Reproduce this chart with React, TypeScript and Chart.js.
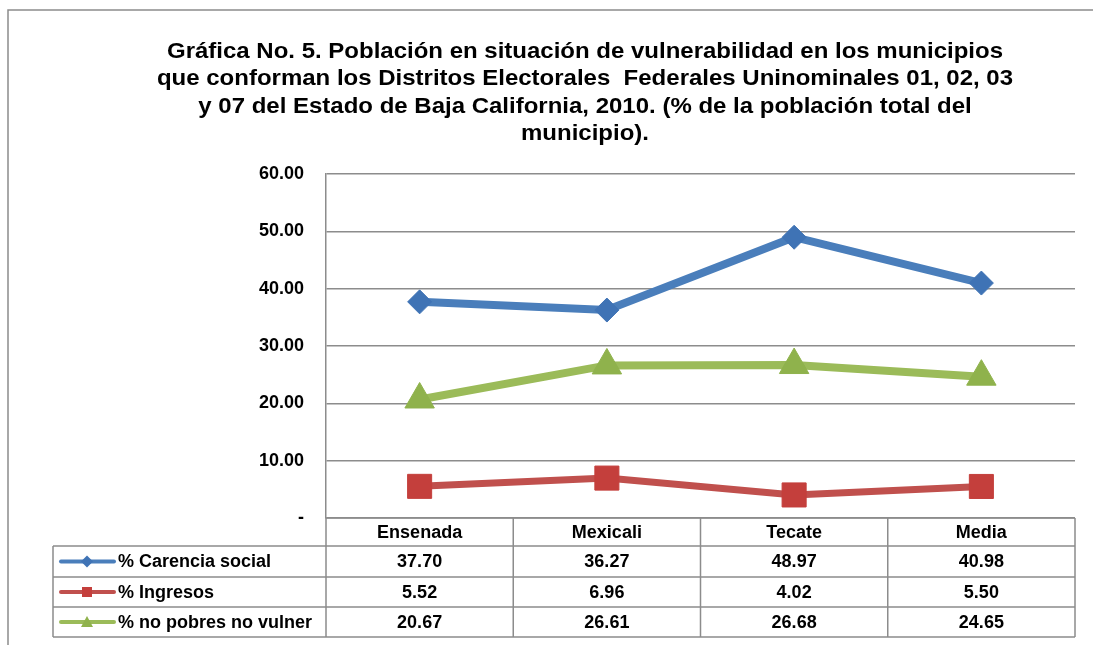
import React, { useEffect, useRef } from 'react';
import { Chart, registerables } from 'chart.js';

Chart.register(...registerables);

const categories = ['Ensenada', 'Mexicali', 'Tecate', 'Media'];
const seriesNames = ['% Carencia social', '% Ingresos', '% no pobres no vulner'];
const carenciaSocial = [37.7, 36.27, 48.97, 40.98];
const ingresos = [5.52, 6.96, 4.02, 5.5];
const noPobres = [20.67, 26.61, 26.68, 24.65];
const yMin = 0;
const yMax = 60;
const yStep = 10;
const titleLines = [
  'Gráfica No. 5. Población en situación de vulnerabilidad en los municipios',
  'que conforman los Distritos Electorales  Federales Uninominales 01, 02, 03',
  'y 07 del Estado de Baja California, 2010. (% de la población total del',
  'municipio).',
];

const FONT = '"Liberation Sans", Arial, sans-serif';
const GRAY = '#8c8c8c';
const seriesColors = ['#4a7ebb', '#c0504d', '#9bbb59'];
const markerColors = ['#3f73b5', '#c43f3c', '#8fb24c'];
const markerStyles = ['rectRot', 'rect', 'triangle'];

const tablePlugin = {
  id: 'tablePlugin',
  afterDraw(chart: any) {
    const ctx = chart.ctx;
    const area = chart.chartArea;
    const xs = chart.scales.x;
    ctx.save();

    // outer frame
    ctx.strokeStyle = GRAY;
    ctx.lineWidth = 1.5;
    ctx.beginPath();
    ctx.moveTo(1093, 10);
    ctx.lineTo(8, 10);
    ctx.lineTo(8, 645);
    ctx.stroke();

    // title (slightly wide, as in the original)
    ctx.fillStyle = '#000';
    ctx.font = `bold 22px ${FONT}`;
    ctx.textAlign = 'center';
    ctx.textBaseline = 'alphabetic';
    const w0 = ctx.measureText(titleLines[0]).width;
    const sx = 836 / w0;
    ctx.save();
    ctx.translate(585, 0);
    ctx.scale(sx, 1);
    titleLines.forEach((t, i) => ctx.fillText(t, 0, 58 + i * 27.3));
    ctx.restore();

    // table
    const half = (xs.getPixelForValue(1) - xs.getPixelForValue(0)) / 2;
    const edges = categories.map((_, i) => xs.getPixelForValue(i) - half);
    edges.push(xs.getPixelForValue(categories.length - 1) + half);
    const rowH = [28, 31, 30, 30];
    const rows: number[] = [area.bottom];
    rowH.forEach((h) => rows.push(rows[rows.length - 1] + h));
    const legendLeft = 53;
    const left = edges[0];
    const right = edges[edges.length - 1];

    ctx.strokeStyle = GRAY;
    ctx.lineWidth = 1.5;
    ctx.beginPath();
    rows.forEach((y, i) => {
      ctx.moveTo(i === 0 ? left : legendLeft, y);
      ctx.lineTo(right, y);
    });
    edges.forEach((x) => {
      ctx.moveTo(x, rows[0]);
      ctx.lineTo(x, rows[rows.length - 1]);
    });
    ctx.moveTo(legendLeft, rows[1]);
    ctx.lineTo(legendLeft, rows[rows.length - 1]);
    ctx.stroke();

    ctx.font = `bold 18px ${FONT}`;
    ctx.fillStyle = '#000';
    ctx.textBaseline = 'middle';
    ctx.textAlign = 'center';
    categories.forEach((c, i) => {
      ctx.fillText(c, xs.getPixelForValue(i), (rows[0] + rows[1]) / 2 + 1);
    });
    chart.data.datasets.forEach((ds: any, r: number) => {
      const cy = (rows[r + 1] + rows[r + 2]) / 2 + 1;
      ctx.textAlign = 'center';
      ctx.fillStyle = '#000';
      ds.data.forEach((v: number, i: number) => {
        ctx.fillText(v.toFixed(2), xs.getPixelForValue(i), cy);
      });
      // legend key
      ctx.strokeStyle = seriesColors[r];
      ctx.lineWidth = 4;
      ctx.lineCap = 'round';
      ctx.beginPath();
      ctx.moveTo(61, cy - 1);
      ctx.lineTo(114, cy - 1);
      ctx.stroke();
      ctx.fillStyle = markerColors[r];
      const mx = 87;
      const my = cy - 1;
      ctx.beginPath();
      if (r === 0) {
        ctx.moveTo(mx - 6, my);
        ctx.lineTo(mx, my - 6);
        ctx.lineTo(mx + 6, my);
        ctx.lineTo(mx, my + 6);
      } else if (r === 1) {
        ctx.rect(mx - 5, my - 5, 10, 10);
      } else {
        ctx.moveTo(mx, my - 6);
        ctx.lineTo(mx + 6, my + 5);
        ctx.lineTo(mx - 6, my + 5);
      }
      ctx.closePath();
      ctx.fill();
      ctx.fillStyle = '#000';
      ctx.textAlign = 'left';
      ctx.fillText(seriesNames[r], 118, cy);
    });
    ctx.restore();
  },
};

export default function App() {
  const ref = useRef<HTMLCanvasElement>(null);
  useEffect(() => {
    if (!ref.current) return;
    const series = [carenciaSocial, ingresos, noPobres];
    const widths = [8, 7, 8];
    const radii = [12, 17, 17];
    const chart = new Chart(ref.current, {
      type: 'line',
      data: {
        labels: categories,
        datasets: series.map((d, i) => ({
          label: seriesNames[i],
          data: d,
          borderColor: seriesColors[i],
          borderWidth: widths[i],
          pointStyle: markerStyles[i] as any,
          pointRadius: radii[i],
          pointHoverRadius: radii[i],
          pointBackgroundColor: markerColors[i],
          pointBorderColor: markerColors[i],
          pointBorderWidth: 1,
          tension: 0,
          fill: false,
        })),
      },
      options: {
        responsive: false,
        animation: false,
        devicePixelRatio: 1,
        layout: { padding: { top: 174, right: 18, bottom: 127, left: 0 } },
        plugins: {
          legend: { display: false },
          title: { display: false },
          tooltip: { enabled: false },
        },
        scales: {
          x: {
            type: 'category',
            offset: true,
            display: false,
          },
          y: {
            min: yMin,
            max: yMax,
            afterFit: (s: any) => {
              s.width = 326;
            },
            ticks: {
              stepSize: yStep,
              color: '#000',
              font: { family: FONT, size: 18, weight: 'bold' },
              padding: 22,
              callback: (v: any) => (Number(v) === 0 ? '-' : Number(v).toFixed(2)),
            },
            grid: { color: GRAY, lineWidth: 1.5, drawTicks: false },
            border: { display: true, color: GRAY, width: 1.5 },
          },
        },
      },
      plugins: [tablePlugin],
    });
    return () => chart.destroy();
  }, []);
  return (
    <div style={{ position: 'absolute', left: 0, top: 0, width: 1093, height: 645, background: '#fff' }}>
      <canvas ref={ref} width={1093} height={645} />
    </div>
  );
}
